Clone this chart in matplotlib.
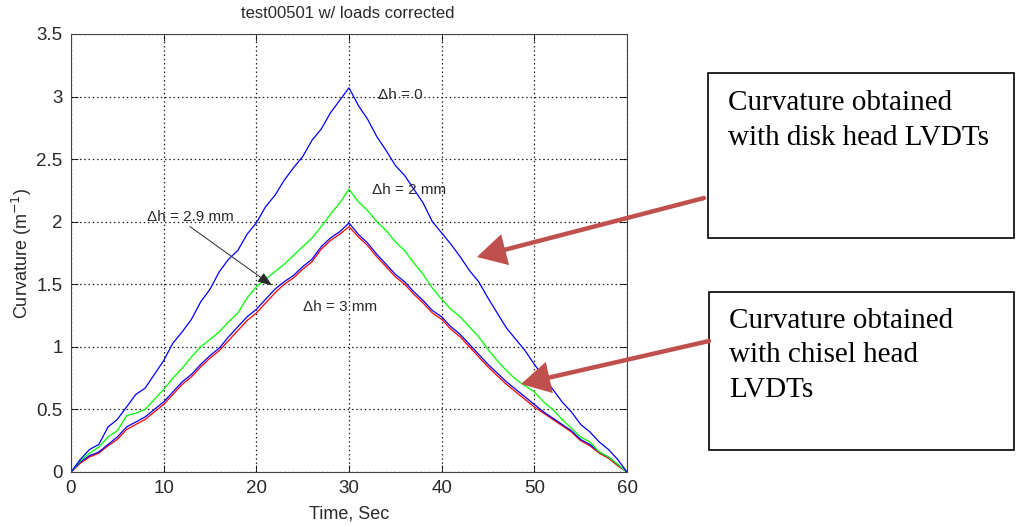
import matplotlib
matplotlib.use("Agg")
import matplotlib.pyplot as plt
from matplotlib.patches import Rectangle, FancyArrowPatch

# time axis (s), one reading per second
time_s = list(range(0, 61))

# curvature, disk head LVDTs (dh = 0)
disk_dh0 = [0.00, 0.10, 0.18, 0.22, 0.36, 0.42, 0.52, 0.62, 0.67, 0.78,
            0.89, 1.03, 1.12, 1.22, 1.36, 1.46, 1.60, 1.70, 1.77, 1.90,
            1.99, 2.12, 2.21, 2.33, 2.43, 2.52, 2.65, 2.74, 2.87, 2.97,
            3.07, 2.93, 2.82, 2.68, 2.57, 2.45, 2.37, 2.26, 2.15, 2.00,
            1.91, 1.82, 1.72, 1.61, 1.52, 1.39, 1.27, 1.15, 1.06, 0.97,
            0.86, 0.76, 0.66, 0.56, 0.48, 0.38, 0.32, 0.24, 0.18, 0.10, 0.00]
# dh = 2 mm
green_dh2 = [0.00, 0.09, 0.15, 0.20, 0.28, 0.33, 0.45, 0.47, 0.50, 0.58,
             0.66, 0.75, 0.83, 0.92, 1.00, 1.06, 1.12, 1.20, 1.27, 1.39,
             1.48, 1.54, 1.60, 1.66, 1.73, 1.80, 1.87, 1.96, 2.06, 2.15,
             2.26, 2.16, 2.09, 2.00, 1.93, 1.84, 1.77, 1.67, 1.58, 1.47,
             1.38, 1.30, 1.24, 1.16, 1.08, 0.98, 0.89, 0.81, 0.74, 0.69,
             0.64, 0.56, 0.50, 0.42, 0.35, 0.28, 0.24, 0.16, 0.12, 0.06, 0.00]
# dh = 2.9 mm (chisel head)
blue_dh29 = [0.00, 0.08, 0.13, 0.16, 0.22, 0.28, 0.36, 0.40, 0.44, 0.50,
             0.56, 0.64, 0.72, 0.78, 0.86, 0.93, 0.99, 1.08, 1.16, 1.24,
             1.30, 1.38, 1.46, 1.52, 1.57, 1.64, 1.70, 1.80, 1.87, 1.92,
             1.99, 1.90, 1.83, 1.74, 1.66, 1.58, 1.52, 1.44, 1.37, 1.29,
             1.24, 1.16, 1.10, 1.02, 0.94, 0.86, 0.79, 0.72, 0.66, 0.60,
             0.54, 0.48, 0.43, 0.38, 0.33, 0.26, 0.22, 0.16, 0.12, 0.06, 0.00]
# dh = 3 mm (chisel head)
red_dh3 = [0.00, 0.07, 0.12, 0.15, 0.21, 0.26, 0.34, 0.38, 0.42, 0.48,
           0.54, 0.62, 0.70, 0.76, 0.84, 0.91, 0.97, 1.05, 1.13, 1.21,
           1.27, 1.35, 1.43, 1.50, 1.55, 1.62, 1.68, 1.78, 1.85, 1.90,
           1.96, 1.88, 1.81, 1.72, 1.64, 1.56, 1.50, 1.42, 1.35, 1.27,
           1.22, 1.14, 1.08, 1.00, 0.92, 0.84, 0.77, 0.70, 0.64, 0.58,
           0.52, 0.47, 0.42, 0.37, 0.32, 0.25, 0.21, 0.15, 0.11, 0.05, 0.00]

x_ticks = [0, 10, 20, 30, 40, 50, 60]
y_ticks = [0, 0.5, 1, 1.5, 2, 2.5, 3, 3.5]
y_tick_labels = ["0", "0.5", "1", "1.5", "2", "2.5", "3", "3.5"]

W, H = 1016, 527
SANS = "Liberation Sans"
SERIF = "Liberation Serif"
ARROW_RED = "#C0504D"
TXT = "#2a2a2a"

fig = plt.figure(figsize=(W / 100, H / 100), dpi=100, facecolor="white")
ax = fig.add_axes([71 / W, 55 / H, 556 / W, 438 / H])

ax.plot(time_s, red_dh3, color="#ff0000", lw=0.9)
ax.plot(time_s, blue_dh29, color="#0000ff", lw=0.9)
ax.plot(time_s, green_dh2, color="#00ff00", lw=0.9)
ax.plot(time_s, disk_dh0, color="#0000ff", lw=0.9)

ax.set_xlim(0, 60)
ax.set_ylim(0, 3.5)
ax.set_xticks(x_ticks)
ax.set_yticks(y_ticks)
ax.set_yticklabels(y_tick_labels)
ax.grid(True, color="#222222", linestyle=(0, (1.2, 2.2)), linewidth=0.9)
ax.tick_params(direction="in", top=True, right=True, length=5, width=0.6,
               labelsize=13.5, pad=6, labelcolor=TXT)
for lab in ax.get_xticklabels() + ax.get_yticklabels():
    lab.set_family(SANS)
for sp in ax.spines.values():
    sp.set_linewidth(0.8)
    sp.set_color("#444444")

ax.set_xlabel("Time, Sec", fontsize=13, family=SANS, labelpad=6, color=TXT)
ax.set_ylabel("Curvature (m$^{-1}$)", fontsize=13, family=SANS, labelpad=2, color=TXT)

# in-plot labels
ax.text(33.1, 3.01, "Δh = 0", fontsize=11, family=SANS, va="center", color=TXT)
ax.text(32.5, 2.25, "Δh = 2 mm", fontsize=11, family=SANS, va="center", color=TXT)
ax.text(25.0, 1.32, "Δh = 3 mm", fontsize=11, family=SANS, va="center", color=TXT)
ax.annotate("Δh = 2.9 mm", xy=(21.7, 1.49), xytext=(8.2, 2.04),
            fontsize=11, family=SANS, va="center", color=TXT,
            arrowprops=dict(arrowstyle="-|>,head_length=0.8,head_width=0.3",
                            color=TXT, lw=0.7, shrinkA=0, shrinkB=0,
                            relpos=(0.45, 0.0)))

fig.text(348 / W, 1 - 14 / H, "test00501 w/ loads corrected", ha="center",
         va="center", fontsize=12, family=SANS, color=TXT)

# overlay in pixel coordinates for the callout boxes
ov = fig.add_axes([0, 0, 1, 1])
ov.set_xlim(0, W)
ov.set_ylim(H, 0)
ov.axis("off")

ov.add_patch(Rectangle((708, 73), 306, 165, fill=False, edgecolor="black", lw=1.2))
ov.add_patch(Rectangle((709, 292), 305, 158, fill=False, edgecolor="black", lw=1.2))

for y, line in [(110, "Curvature obtained"), (145, "with disk head LVDTs")]:
    ov.text(728, y, line, fontsize=21, family=SERIF, va="baseline", ha="left")
for y, line in [(328, "Curvature obtained"), (362, "with chisel head"), (397, "LVDTs")]:
    ov.text(729, y, line, fontsize=21, family=SERIF, va="baseline", ha="left")

for (x0, y0), (x1, y1) in [((704, 198), (477, 257)), ((709, 341), (521, 384))]:
    ov.add_patch(FancyArrowPatch(
        (x0, y0), (x1, y1),
        arrowstyle="-|>,head_length=1.0,head_width=0.55", mutation_scale=16,
        color=ARROW_RED, lw=3.2, shrinkA=0, shrinkB=0, joinstyle="miter"))

fig.savefig("out.png", dpi=100, facecolor="white")
